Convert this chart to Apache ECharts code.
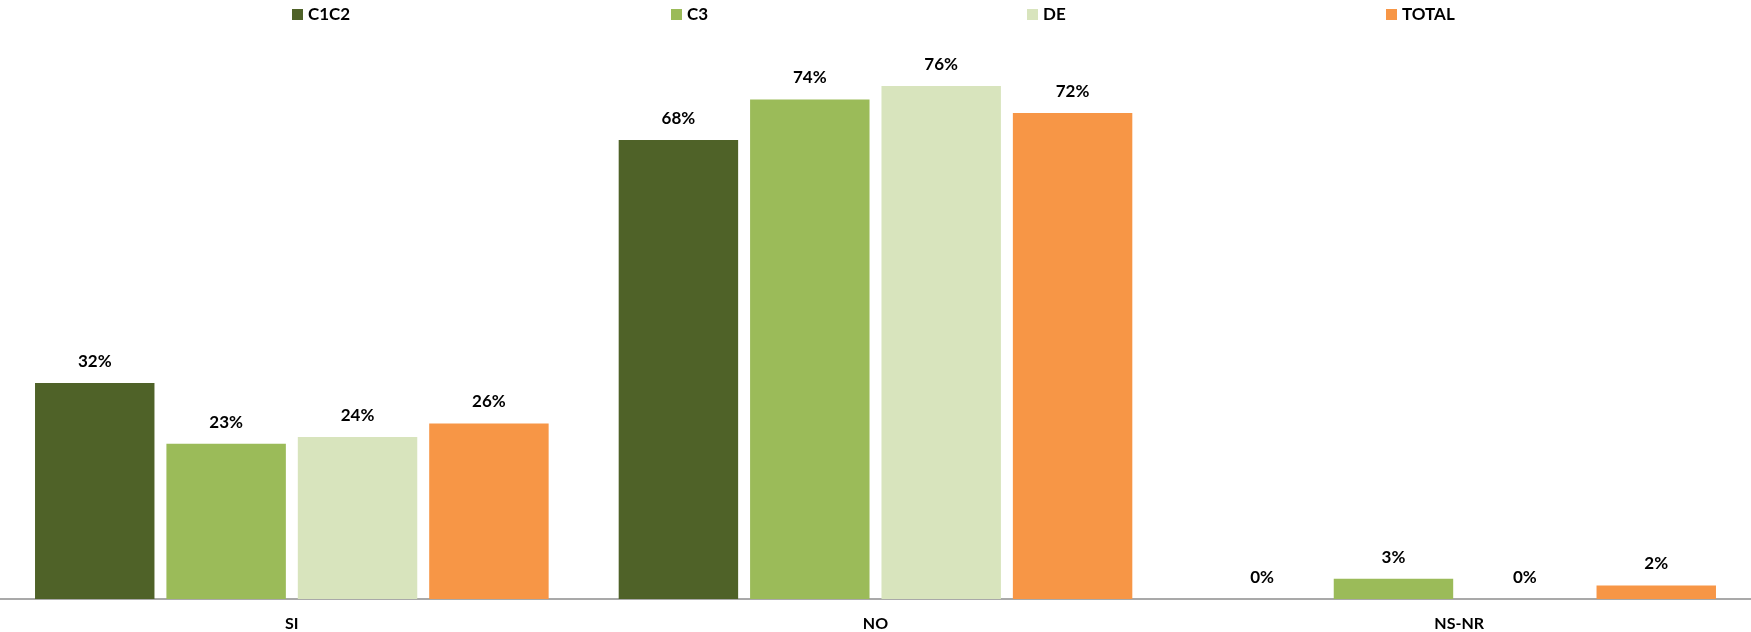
<!DOCTYPE html>
<html>
<head>
<meta charset="utf-8">
<script src="https://cdn.jsdelivr.net/npm/echarts@6/dist/echarts.min.js"></script>
<style>
html,body{margin:0;padding:0;background:#fff;}
#chart{width:1751px;height:632px;}
</style>
</head>
<body>
<div id="chart"></div>
<script>
const categories = ['SI', 'NO', 'NS-NR'];
const seriesNames = ['C1C2', 'C3', 'DE', 'TOTAL'];
const c1c2 = [32, 68, 0];
const c3 = [23, 74, 3];
const de = [24, 76, 0];
const total = [26, 72, 2];
const seriesValues = [c1c2, c3, de, total];
const colors = ['#4F6228', '#9BBB59', '#D8E4BD', '#F79646'];
const legendLefts = [287, 666, 1022, 1381];

const FONT = 'Lato, "Open Sans", sans-serif';
const chart = echarts.init(document.getElementById('chart'));

const legends = seriesNames.map((n, i) => ({
  data: [n],
  left: legendLefts[i],
  top: 1,
  itemWidth: 11,
  itemHeight: 11,
  icon: 'rect',
  textStyle: { fontFamily: FONT, fontWeight: 'bold', fontSize: 17, color: '#000' }
}));

chart.setOption({
  animation: false,
  color: colors,
  legend: legends,
  grid: { left: 0, right: 0, top: 59, bottom: 31, containLabel: false },
  xAxis: {
    type: 'category',
    data: categories,
    axisLine: { lineStyle: { color: '#8C8C8C', width: 1.5 } },
    axisTick: { show: false },
    axisLabel: { fontFamily: FONT, fontWeight: 'bold', fontSize: 16, color: '#000', margin: 17 }
  },
  yAxis: {
    type: 'value', min: 0, max: 80,
    show: false,
    splitLine: { show: false }
  },
  series: seriesNames.map((n, i) => ({
    name: n,
    type: 'bar',
    data: seriesValues[i],
    barGap: '10%',
    barCategoryGap: '12%',
    itemStyle: { color: colors[i] },
    label: {
      show: true,
      position: 'top',
      distance: 13,
      formatter: '{c}%',
      fontFamily: FONT, fontWeight: 'bold', fontSize: 17, color: '#000'
    }
  }))
});
</script>
</body>
</html>
